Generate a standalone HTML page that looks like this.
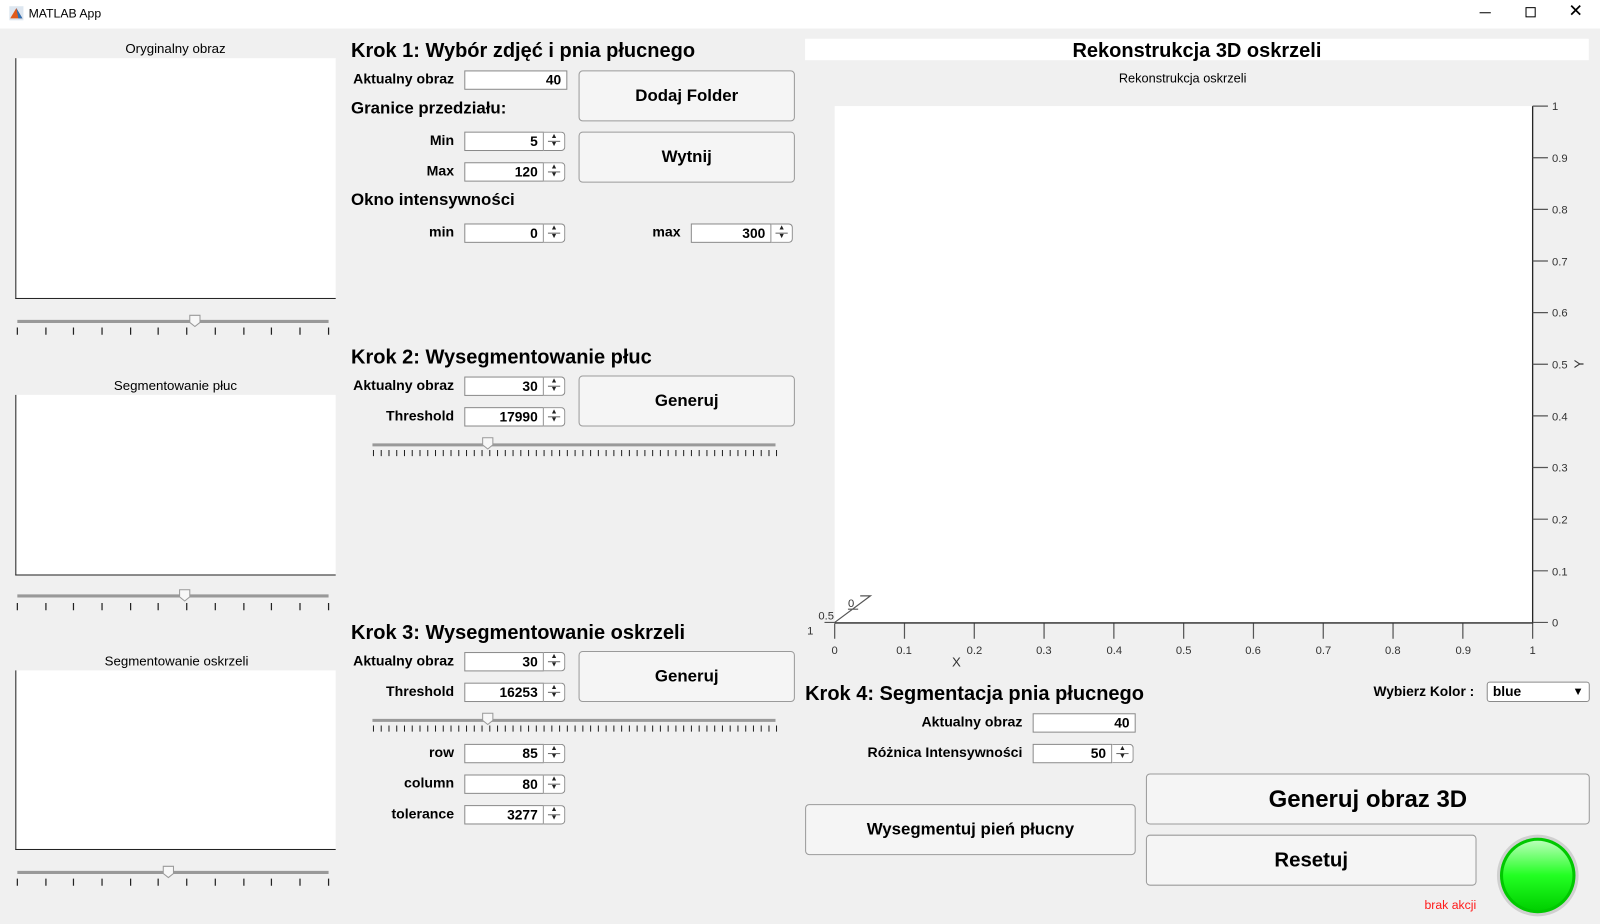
<!DOCTYPE html>
<html><head><meta charset="utf-8">
<style>
*{box-sizing:border-box;margin:0;padding:0}
html,body{width:1600px;height:924px;overflow:hidden;background:#f0f0f0;font-family:"Liberation Sans",Arial,sans-serif}
#w{position:absolute;left:0;top:0;width:1568px;height:906px;transform:scale(1.0204);transform-origin:0 0}
.a{position:absolute;white-space:nowrap}
.h{position:absolute;font-size:19.6px;font-weight:bold;white-space:nowrap;color:#000}
.l{position:absolute;font-size:13.8px;font-weight:bold;text-align:right;width:145px;line-height:18px;top:0;white-space:nowrap}
.f{position:absolute;height:19px;background:#fff;border:1px solid #8a8a8a;font-size:13.5px;font-weight:bold;text-align:right;padding-right:5px;line-height:17px}
.s{position:absolute;height:19px;width:21px;background:#fff;border:1px solid #8a8a8a;border-left:none;border-radius:0 4px 4px 0;font-size:7px;line-height:8px;text-align:center;color:#222}
.s:after{content:"";position:absolute;left:4px;right:4px;top:8px;border-top:1px solid #666}
.b{position:absolute;background:#f5f5f5;border:1px solid #9a9a9a;border-radius:4px;font-weight:bold;font-size:16.5px;display:flex;align-items:center;justify-content:center}
.ax{position:absolute;background:#fff;border-left:1.5px solid #222;border-bottom:1.5px solid #222}
.t{position:absolute;font-size:13px;width:320px;text-align:center}
</style></head><body><div id="w">
<div class="a" style="left:0;top:0;width:1568px;height:28px;background:#fff"></div>
<svg class="a" style="left:9px;top:6px" width="14" height="14"><rect width="14" height="14" fill="#dde6f0"/><path d="M1 12 L7 2 L13 12 Z" fill="#e05a1a"/><path d="M7 2 L9 12 L13 12Z" fill="#2a6fb6"/></svg>
<div class="a" style="left:28px;top:6px;font-size:12px">MATLAB App</div>
<div class="a" style="left:1450px;top:12px;width:11px;border-top:1px solid #000"></div>
<div class="a" style="left:1495px;top:7px;width:10px;height:10px;border:1px solid #000"></div>
<div class="a" style="left:1537px;top:1px;font-size:17px">✕</div>

<div class="t" style="left:12px;top:40px">Oryginalny obraz</div>
<div class="ax" style="left:15px;top:57px;width:314px;height:236px"></div>
<div class="t" style="left:12px;top:370px">Segmentowanie płuc</div>
<div class="ax" style="left:15px;top:387px;width:314px;height:177px"></div>
<div class="t" style="left:13px;top:640px">Segmentowanie oskrzeli</div>
<div class="ax" style="left:15px;top:657px;width:314px;height:176px"></div>

<svg class="a" style="left:0;top:0" width="1568" height="906">
<g stroke="#999" stroke-width="3"><line x1="17" y1="315" x2="322" y2="315"/><line x1="17" y1="584" x2="322" y2="584"/><line x1="17" y1="855" x2="322" y2="855"/>
<line x1="365" y1="436" x2="760" y2="436"/><line x1="365" y1="706" x2="760" y2="706"/></g>
<g stroke="#222" stroke-width="1.2">
<path d="M17 321v7M45 321v7M72 321v7M100 321v7M128 321v7M155 321v7M183 321v7M211 321v7M239 321v7M266 321v7M294 321v7M322 321v7"/>
<path d="M17 591v7M45 591v7M72 591v7M100 591v7M128 591v7M155 591v7M183 591v7M211 591v7M239 591v7M266 591v7M294 591v7M322 591v7"/>
<path d="M17 861v7M45 861v7M72 861v7M100 861v7M128 861v7M155 861v7M183 861v7M211 861v7M239 861v7M266 861v7M294 861v7M322 861v7"/>
</g>
<g stroke="#222" stroke-width="1" id="tk">
<path d="M366 441v6M373.6 441v6M381.2 441v6M388.8 441v6M396.4 441v6M404 441v6M411.6 441v6M419.2 441v6M426.8 441v6M434.4 441v6M442 441v6M449.6 441v6M457.2 441v6M464.8 441v6M472.4 441v6M480 441v6M487.6 441v6M495.2 441v6M502.8 441v6M510.4 441v6M518 441v6M525.6 441v6M533.2 441v6M540.8 441v6M548.4 441v6M556 441v6M563.6 441v6M571.2 441v6M578.8 441v6M586.4 441v6M594 441v6M601.6 441v6M609.2 441v6M616.8 441v6M624.4 441v6M632 441v6M639.6 441v6M647.2 441v6M654.8 441v6M662.4 441v6M670 441v6M677.6 441v6M685.2 441v6M692.8 441v6M700.4 441v6M708 441v6M715.6 441v6M723.2 441v6M730.8 441v6M738.4 441v6M746 441v6M753.6 441v6M761 441v6"/>
</g>
<use href="#tk" y="270"/>
<g fill="#f7f7f7" stroke="#999"><path d="M186 309h10v7l-5 4l-5-4z"/><path d="M176 578h10v7l-5 4l-5-4z"/><path d="M160 849h10v7l-5 4l-5-4z"/><path d="M473 429h10v7l-5 4l-5-4z"/><path d="M473 699h10v7l-5 4l-5-4z"/></g>
<circle cx="1507" cy="858" r="40" fill="#d0d0d0"/>
<defs><linearGradient id="g" x1="0" y1="0" x2="0" y2="1"><stop offset="0" stop-color="#b8ffb8"/><stop offset="0.5" stop-color="#22ff22"/><stop offset="1" stop-color="#00d000"/></linearGradient></defs>
<circle cx="1507" cy="858" r="37" fill="#00c800"/>
<circle cx="1507" cy="858" r="34" fill="url(#g)"/>
</svg>

<div class="h" style="left:344px;top:39px">Krok 1: Wybór zdjęć i pnia płucnego</div>
<div class="l" style="left:300px;top:69px">Aktualny obraz</div>
<div class="f" style="left:455px;top:69px;width:101px">40</div>
<div class="a" style="left:344px;top:97px;font-size:16.5px;font-weight:bold">Granice przedziału:</div>
<div class="l" style="left:300px;top:129px">Min</div>
<div class="f" style="left:455px;top:129px;width:78px">5</div><div class="s" style="left:533px;top:129px">▲<br>▼</div>
<div class="l" style="left:300px;top:159px">Max</div>
<div class="f" style="left:455px;top:159px;width:78px">120</div><div class="s" style="left:533px;top:159px">▲<br>▼</div>
<div class="a" style="left:344px;top:187px;font-size:16.5px;font-weight:bold">Okno intensywności</div>
<div class="l" style="left:300px;top:219px">min</div>
<div class="f" style="left:455px;top:219px;width:78px">0</div><div class="s" style="left:533px;top:219px">▲<br>▼</div>
<div class="l" style="left:522px;top:219px">max</div>
<div class="f" style="left:677px;top:219px;width:79px">300</div><div class="s" style="left:756px;top:219px">▲<br>▼</div>
<div class="b" style="left:567px;top:69px;width:212px;height:50px">Dodaj Folder</div>
<div class="b" style="left:567px;top:129px;width:212px;height:50px">Wytnij</div>

<div class="h" style="left:344px;top:339px">Krok 2: Wysegmentowanie płuc</div>
<div class="l" style="left:300px;top:369px">Aktualny obraz</div>
<div class="f" style="left:455px;top:369px;width:78px">30</div><div class="s" style="left:533px;top:369px">▲<br>▼</div>
<div class="l" style="left:300px;top:399px">Threshold</div>
<div class="f" style="left:455px;top:399px;width:78px">17990</div><div class="s" style="left:533px;top:399px">▲<br>▼</div>
<div class="b" style="left:567px;top:368px;width:212px;height:50px">Generuj</div>

<div class="h" style="left:344px;top:609px">Krok 3: Wysegmentowanie oskrzeli</div>
<div class="l" style="left:300px;top:639px">Aktualny obraz</div>
<div class="f" style="left:455px;top:639px;width:78px">30</div><div class="s" style="left:533px;top:639px">▲<br>▼</div>
<div class="l" style="left:300px;top:669px">Threshold</div>
<div class="f" style="left:455px;top:669px;width:78px">16253</div><div class="s" style="left:533px;top:669px">▲<br>▼</div>
<div class="b" style="left:567px;top:638px;width:212px;height:50px">Generuj</div>
<div class="l" style="left:300px;top:729px">row</div>
<div class="f" style="left:455px;top:729px;width:78px">85</div><div class="s" style="left:533px;top:729px">▲<br>▼</div>
<div class="l" style="left:300px;top:759px">column</div>
<div class="f" style="left:455px;top:759px;width:78px">80</div><div class="s" style="left:533px;top:759px">▲<br>▼</div>
<div class="l" style="left:300px;top:789px">tolerance</div>
<div class="f" style="left:455px;top:789px;width:78px">3277</div><div class="s" style="left:533px;top:789px">▲<br>▼</div>

<div class="a" style="left:789px;top:38px;width:768px;height:21px;background:#fff"></div>
<div class="h" style="left:789px;top:39px;width:768px;text-align:center">Rekonstrukcja 3D oskrzeli</div>
<div class="a" style="left:999px;top:70px;width:320px;text-align:center;font-size:12.5px">Rekonstrukcja oskrzeli</div>
<div class="a" style="left:818px;top:104px;width:684px;height:506px;background:#fff"></div>
<svg class="a" style="left:0;top:0" width="1568" height="906" font-family="Liberation Sans" font-size="11" fill="#333">
<g stroke="#262626" stroke-width="1.3"><line x1="818" y1="610.5" x2="1502" y2="610.5"/><line x1="1502" y1="104" x2="1502" y2="611"/></g>
<g stroke="#555" stroke-width="1.2" fill="none">
<path d="M818 611v15M886.4 611v15M954.8 611v15M1023.2 611v15M1091.6 611v15M1160 611v15M1228.4 611v15M1296.8 611v15M1365.2 611v15M1433.6 611v15M1502 611v15"/>
<path d="M1502 104h15M1502 154.6h15M1502 205.2h15M1502 255.8h15M1502 306.4h15M1502 357h15M1502 407.6h15M1502 458.2h15M1502 508.8h15M1502 559.4h15M1502 610h15"/>
<path d="M818 610L853 584h-10M808 610h10M831 597h10"/>
</g>
<g text-anchor="middle"><text x="818" y="641">0</text><text x="886" y="641">0.1</text><text x="955" y="641">0.2</text><text x="1023" y="641">0.3</text><text x="1092" y="641">0.4</text><text x="1160" y="641">0.5</text><text x="1228" y="641">0.6</text><text x="1297" y="641">0.7</text><text x="1365" y="641">0.8</text><text x="1434" y="641">0.9</text><text x="1502" y="641">1</text></g>
<g><text x="1521" y="108">1</text><text x="1521" y="159">0.9</text><text x="1521" y="209">0.8</text><text x="1521" y="260">0.7</text><text x="1521" y="310">0.6</text><text x="1521" y="361">0.5</text><text x="1521" y="412">0.4</text><text x="1521" y="462">0.3</text><text x="1521" y="513">0.2</text><text x="1521" y="564">0.1</text><text x="1521" y="614">0</text></g>
<text x="802" y="607">0.5</text><text x="831" y="595">0</text><text x="791" y="622">1</text>
<text x="933" y="653" font-size="13">X</text>
<text x="1543" y="362" font-size="13" transform="rotate(-90 1547 357)">Y</text>
</svg>

<div class="h" style="left:789px;top:669px">Krok 4: Segmentacja pnia płucnego</div>
<div class="a" style="left:1346px;top:670px;font-size:13.5px;font-weight:bold">Wybierz Kolor :</div>
<div class="a" style="left:1457px;top:668px;width:101px;height:20px;background:#fff;border:1px solid #8a8a8a;border-radius:3px;font-size:13.5px;font-weight:bold;padding-left:5px;line-height:18px">blue<span style="position:absolute;right:5px;font-size:11px">▼</span></div>
<div class="l" style="left:857px;top:699px">Aktualny obraz</div>
<div class="f" style="left:1012px;top:699px;width:101px">40</div>
<div class="l" style="left:802px;top:729px;width:200px">Różnica Intensywności</div>
<div class="f" style="left:1012px;top:729px;width:78px">50</div><div class="s" style="left:1090px;top:729px">▲<br>▼</div>
<div class="b" style="left:789px;top:788px;width:324px;height:50px">Wysegmentuj pień płucny</div>
<div class="b" style="left:1123px;top:758px;width:435px;height:50px;font-size:23.5px">Generuj obraz 3D</div>
<div class="b" style="left:1123px;top:818px;width:324px;height:50px;font-size:20px">Resetuj</div>
<div class="a" style="left:1396px;top:880px;font-size:12px;color:#ff1a1a">brak akcji</div>
</div></body></html>
